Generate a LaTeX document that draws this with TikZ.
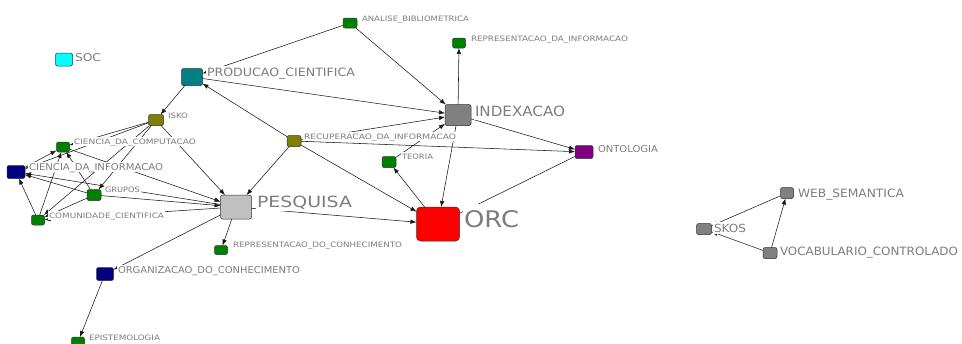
\documentclass[tikz,border=0pt]{standalone}
\usepackage{fontspec}
\setmainfont{DejaVu Sans}
\usetikzlibrary{arrows.meta}

% palette
\definecolor{cgreen}{RGB}{0,128,0}
\definecolor{colive}{RGB}{128,128,0}
\definecolor{cteal}{RGB}{0,128,128}
\definecolor{cnavy}{RGB}{0,0,128}
\definecolor{cgray}{RGB}{128,128,128}
\definecolor{csilver}{RGB}{192,192,192}
\definecolor{cred}{RGB}{255,0,0}
\definecolor{cpurple}{RGB}{128,0,128}
\definecolor{ccyan}{RGB}{0,255,255}
\definecolor{cborder}{RGB}{50,50,50}
\definecolor{cedge}{RGB}{25,25,25}
\definecolor{ctext}{RGB}{125,125,125}

% label text scaled to a given width and cap height, no depth
\newcommand\lbtext[3]{\raisebox{0pt}[\height][0pt]{\resizebox{#1pt}{#2pt}{#3}}}

\tikzset{
  vx/.style n args={3}{draw=cborder, line width=0.5pt, rounded corners=2pt,
    fill=#1, minimum width=#2pt, minimum height=#3pt, inner sep=0pt, outer sep=0pt},
  tag/.style={anchor=base west, fill=white, text=ctext, inner xsep=1pt,
    inner ysep=1.5pt, outer sep=0pt},
  bigtag/.style={tag, inner ysep=4pt},
  link/.style={draw=cedge, line width=0.55pt},
  arc/.style={link, -{Latex[length=6pt,width=4.5pt]}},
}

\begin{document}
\begin{tikzpicture}[x=1pt,y=-1pt]
\useasboundingbox (0,0) rectangle (962,343);
\clip (0,0) rectangle (962,343);

% ---- vertices (placed first so the edges can refer to them) ----
\node[vx={ccyan}{17}{13}]   (soc)    at (64,59.5) {};
\node[vx={cteal}{21}{17}]   (prod)   at (192,77)  {};
\node[vx={cgreen}{14}{10}]  (anal)   at (350,23)  {};
\node[vx={cgreen}{13}{10}]  (repinf) at (459,43)  {};
\node[vx={cgray}{26}{21}]   (index)  at (458,115) {};
\node[vx={colive}{15}{11}]  (isko)   at (156,120) {};
\node[vx={colive}{14}{11}]  (recup)  at (294,141) {};
\node[vx={cgreen}{13}{10}]  (ccomp)  at (63,147)  {};
\node[vx={cnavy}{18}{13}]   (cinf)   at (16,172)  {};
\node[vx={cgreen}{14}{11}]  (grupos) at (94,195)  {};
\node[vx={cgreen}{13}{10}]  (comun)  at (38,220)  {};
\node[vx={csilver}{31}{24}] (pesq)   at (236,207) {};
\node[vx={cgreen}{13}{9}]   (repcon) at (221,250) {};
\node[vx={cred}{43}{34},rounded corners=4pt] (orc) at (438,224) {};
\node[vx={cgreen}{14}{11}]  (teoria) at (389,162) {};
\node[vx={cpurple}{18}{13}] (onto)   at (584,152) {};
\node[vx={cnavy}{17}{13}]   (org)    at (105,274) {};
\node[vx={cgreen}{13}{10}]  (epis)   at (78,342)  {};
\node[vx={cgray}{13}{11}]   (web)    at (787,193) {};
\node[vx={cgray}{15}{11}]   (skos)   at (704,229) {};
\node[vx={cgray}{14}{11}]   (vocab)  at (770,253) {};

% ---- edges ----
\draw[arc] (prod) -- (index);
\draw[arc] (anal) -- (index);
\draw[arc] (anal) -- (prod);
\draw[arc] (prod) -- (isko);
\draw[arc] (recup) -- (prod);
\draw[arc] (recup) -- (index);
\draw[arc] (recup) -- (onto);
\draw[arc] (recup) -- (pesq);
\draw[arc] (recup) -- (orc);
\draw[arc] (index) -- (repinf);
\draw[arc] (index) -- (onto);
\draw[arc] (index) -- (orc);
\draw[arc] (teoria) -- (index);
\draw[arc] (orc) -- (teoria);
\draw[link] (onto) -- (orc);
\draw[arc] (pesq) -- (orc);
\draw[arc] (pesq) -- (repcon);
\draw[arc] (pesq) -- (org);
\draw[arc] (org) -- (epis);
\draw[arc] (isko) -- (pesq);
\draw[arc] (isko) -- (ccomp);
\draw[arc] (isko) -- (cinf);
\draw[arc] (isko) -- (grupos);
\draw[arc] (isko) -- (comun);
\draw[arc] (cinf) -- (ccomp);
\draw[arc] (comun) -- (ccomp);
\draw[arc] (grupos) -- (ccomp);
\draw[arc] (comun) -- (cinf);
\draw[arc] (grupos) -- (cinf);
\draw[arc] (grupos) -- (comun);
\draw[arc] (ccomp) -- (pesq);
\draw[arc] (grupos) -- (pesq);
\draw[arc] (pesq) -- (cinf);
\draw[arc] (pesq) -- (comun);
\draw[arc] (vocab) -- (web);
\draw[arc] (vocab) -- (skos);
\draw[arc] (web) -- (skos);

% ---- labels (white backing hides the edges running beneath them) ----
\node[tag] (t-soc)    at (74,61)   {\lbtext{26}{8}{SOC}};
\node[tag] (t-prod)   at (206,76)  {\lbtext{148}{8.5}{PRODUCAO\_CIENTIFICA}};
\node[tag] (t-anal)   at (361,21)  {\lbtext{107}{5.5}{ANALISE\_BIBLIOMETRICA}};
\node[tag] (t-repinf) at (470,41)  {\lbtext{157}{5.5}{REPRESENTACAO\_DA\_INFORMACAO}};
\node[bigtag] (t-index) at (474,116) {\lbtext{90}{10.5}{INDEXACAO}};
\node[tag] (t-isko)   at (167,118) {\lbtext{20}{5.5}{ISKO}};
\node[tag] (t-recup)  at (303,139) {\lbtext{152}{5.5}{RECUPERACAO\_DA\_INFORMACAO}};
\node[tag] (t-ccomp)  at (73,144)  {\lbtext{122}{5.5}{CIENCIA\_DA\_COMPUTACAO}};
\node[tag] (t-cinf)   at (28,170)  {\lbtext{134}{7}{CIENCIA\_DA\_INFORMACAO}};
\node[tag] (t-grupos) at (104,192) {\lbtext{35}{5.5}{GRUPOS}};
\node[tag] (t-comun)  at (48,218)  {\lbtext{115}{5.5}{COMUNIDADE\_CIENTIFICA}};
\node[bigtag] (t-pesq) at (256,207) {\lbtext{95}{11.5}{PESQUISA}};
\node[bigtag,inner ysep=6pt] (t-orc) at (463,227) {\lbtext{55}{17}{ORC}};
\node[tag] (t-teoria) at (401,159) {\lbtext{31}{5.5}{TEORIA}};
\node[tag] (t-onto)   at (597,152) {\lbtext{60}{7}{ONTOLOGIA}};
\node[tag] (t-repcon) at (232,247) {\lbtext{169}{5.5}{REPRESENTACAO\_DO\_CONHECIMENTO}};
\node[tag] (t-org)    at (117,273) {\lbtext{182}{7}{ORGANIZACAO\_DO\_CONHECIMENTO}};
\node[tag] (t-epis)   at (88,340)  {\lbtext{71}{5.5}{EPISTEMOLOGIA}};
\node[tag] (t-web)    at (797,197) {\lbtext{106}{8.5}{WEB\_SEMANTICA}};
\node[tag] (t-skos)   at (713,232) {\lbtext{32}{8.3}{SKOS}};
\node[tag] (t-vocab)  at (779,255) {\lbtext{178}{8.5}{VOCABULARIO\_CONTROLADO}};
\end{tikzpicture}
\end{document}
